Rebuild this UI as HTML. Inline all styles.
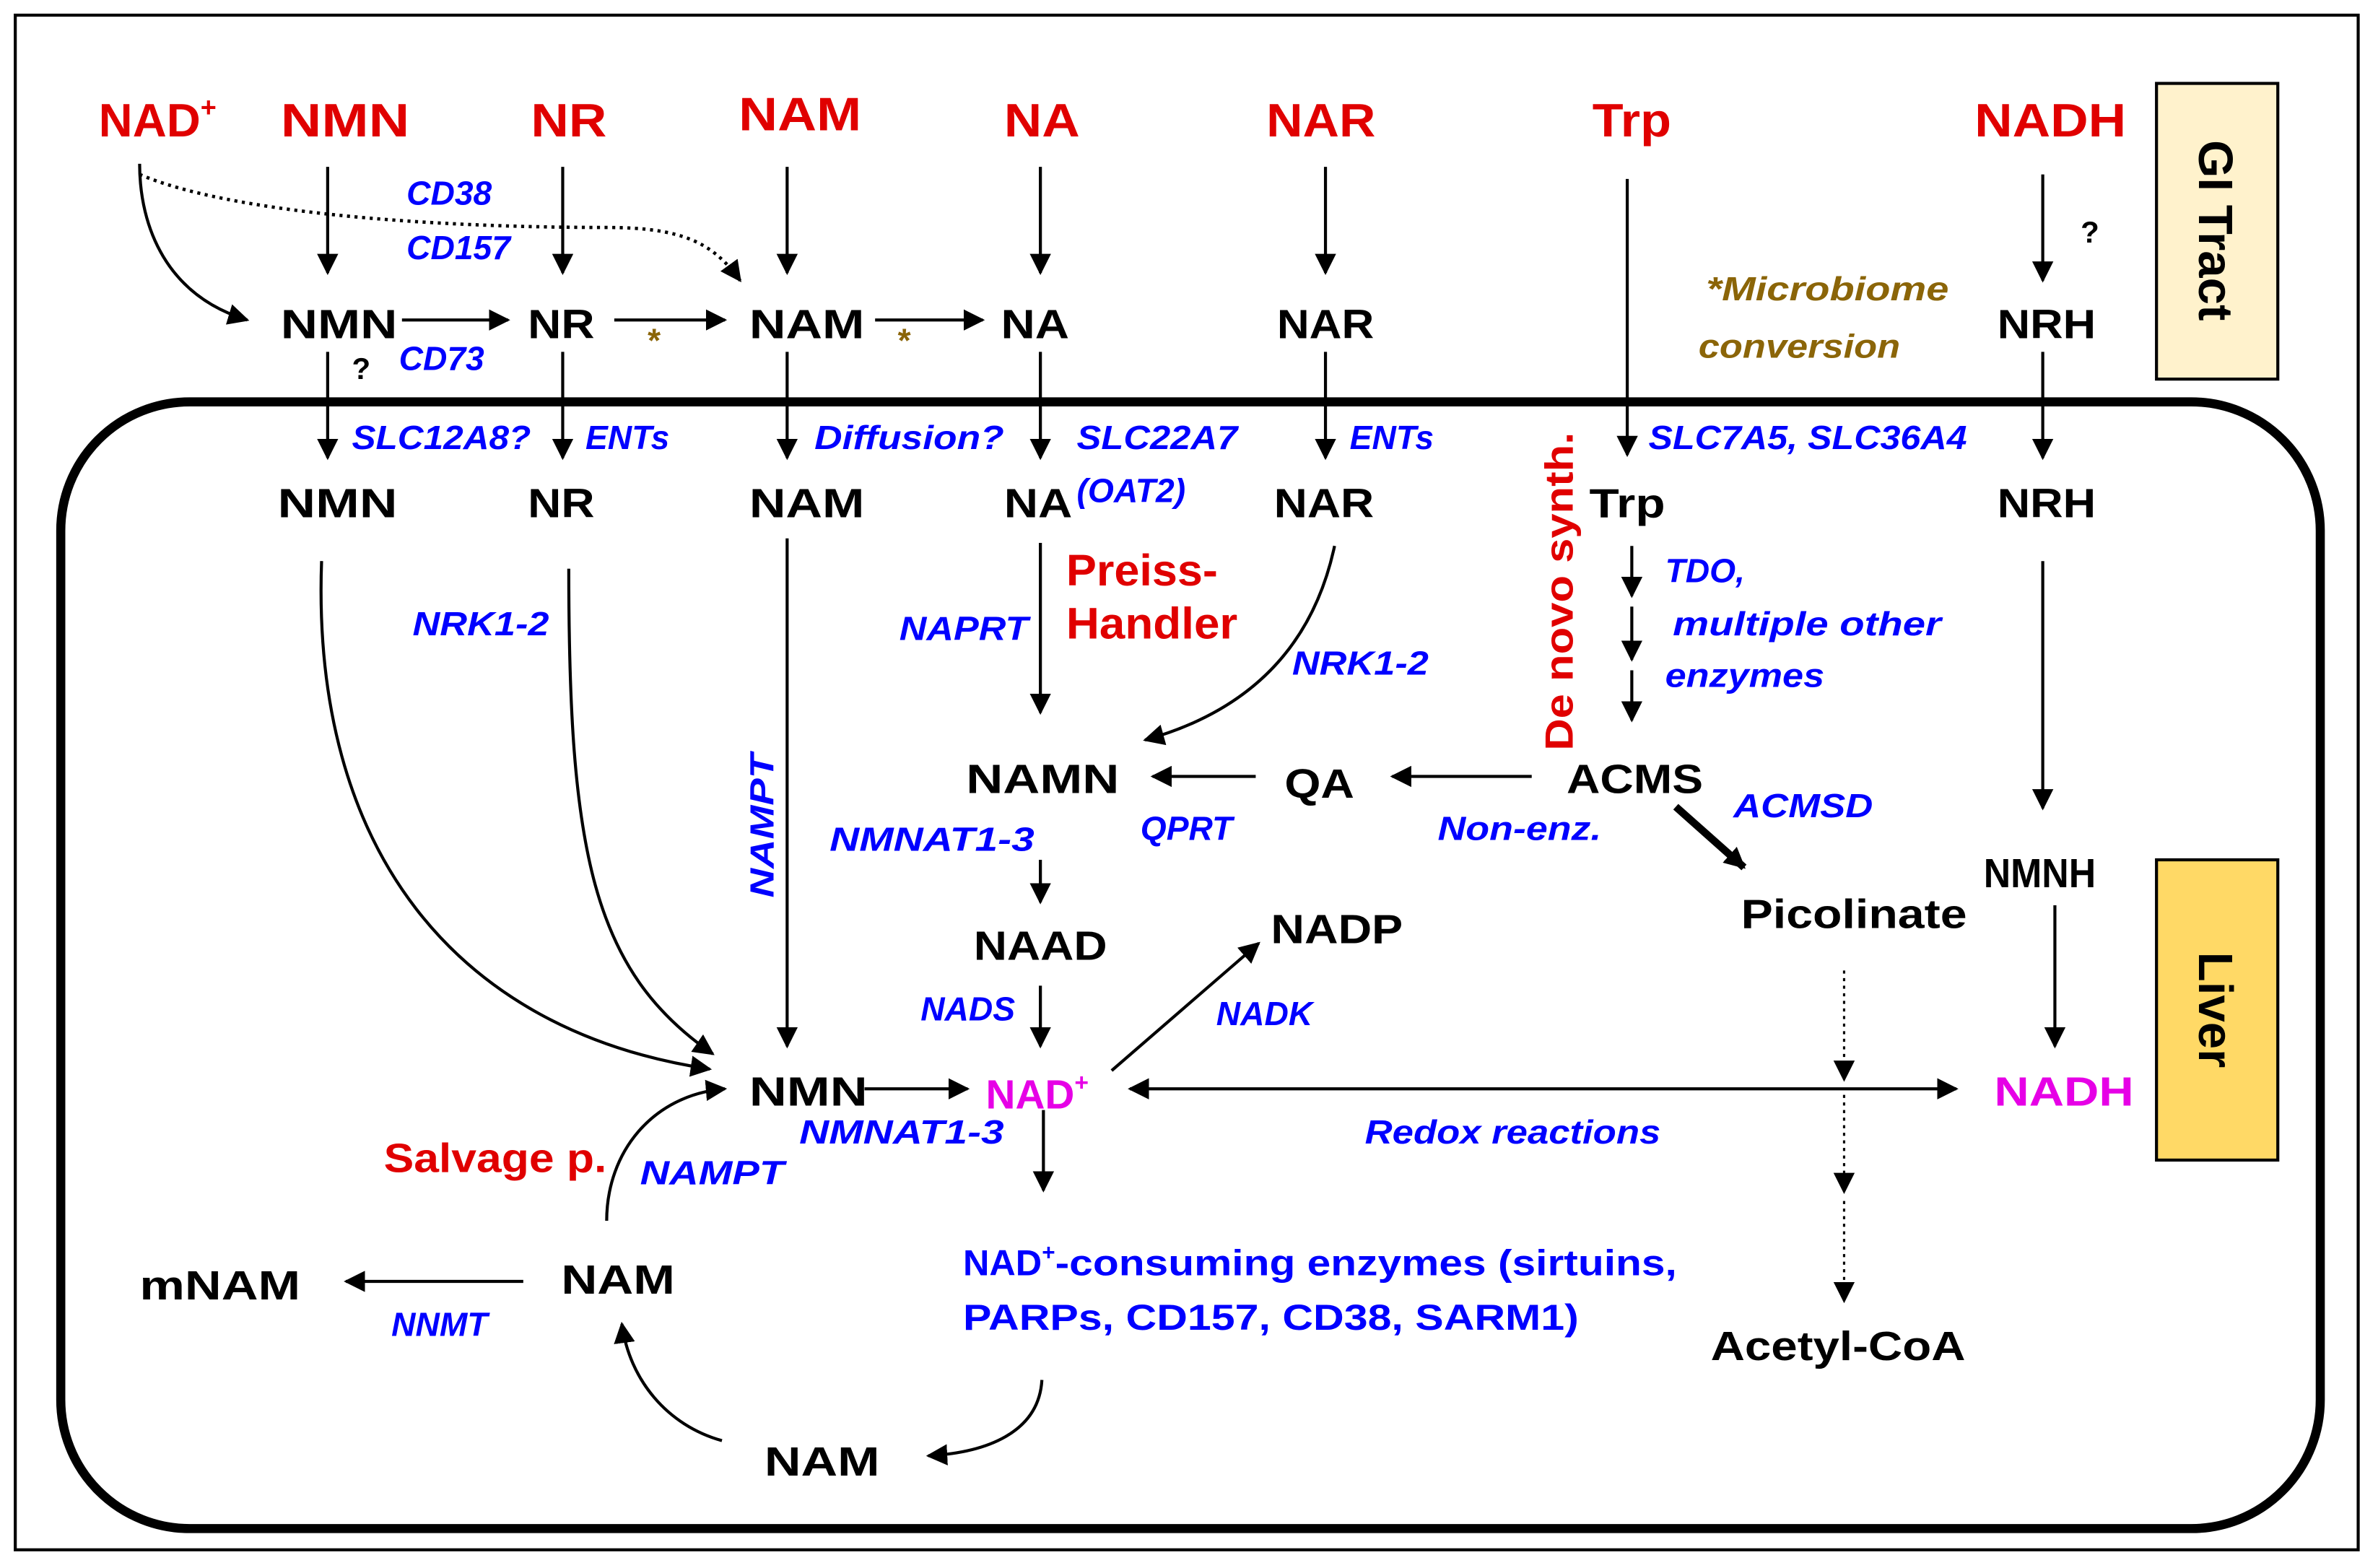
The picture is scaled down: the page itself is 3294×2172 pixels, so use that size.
<!DOCTYPE html>
<html><head><meta charset="utf-8"><style>
html,body{margin:0;padding:0;background:#fff}
svg{display:block}
text{font-family:"Liberation Sans",sans-serif}
.r{fill:#e00000;font-weight:bold;font-size:31px}
.k{fill:#000;font-size:27px;font-weight:bold}
.b{fill:#0000ff;font-style:italic;font-weight:bold;font-size:22px}
.m{fill:#e600e6;font-size:27px;font-weight:bold}
.br{fill:#8b6508;font-style:italic;font-weight:bold;font-size:22px}
.l{stroke:#000;stroke-width:2;fill:none}
</style></head><body>
<svg width="3294" height="2172" viewBox="0 0 1568 1034" xmlns="http://www.w3.org/2000/svg">
<defs>
<marker id="A" viewBox="0 0 10 10" refX="9" refY="5" markerWidth="14" markerHeight="14" markerUnits="userSpaceOnUse" orient="auto"><path d="M0,0L10,5L0,10z" fill="#000"/></marker>
<marker id="s" viewBox="0 0 10 10" refX="1" refY="5" markerWidth="14" markerHeight="14" markerUnits="userSpaceOnUse" orient="auto"><path d="M10,0L0,5L10,10z" fill="#000"/></marker>
</defs>
<rect x="10" y="10" width="1545" height="1012" fill="#fff" stroke="#000" stroke-width="2"/>
<rect x="40" y="265" width="1490" height="743" rx="85" fill="none" stroke="#000" stroke-width="6"/>
<rect x="1422" y="55" width="80" height="195" fill="#fff2cc" stroke="#000" stroke-width="2"/>
<text transform="translate(1450,152) rotate(90)" text-anchor="middle" font-weight="bold" font-size="32" fill="#000">GI Tract</text>
<rect x="1422" y="567" width="80" height="198" fill="#ffd966" stroke="#000" stroke-width="2"/>
<text transform="translate(1450,666) rotate(90)" text-anchor="middle" font-weight="bold" font-size="32" fill="#000">Liver</text>

<g class="r">
<text x="65" y="90">NAD<tspan font-size="18" dy="-13">+</tspan></text>
<text x="185" y="90" textLength="85" lengthAdjust="spacingAndGlyphs">NMN</text><text x="350" y="90" textLength="50" lengthAdjust="spacingAndGlyphs">NR</text><text x="487" y="86" textLength="81" lengthAdjust="spacingAndGlyphs">NAM</text>
<text x="662" y="90" textLength="50" lengthAdjust="spacingAndGlyphs">NA</text><text x="835" y="90" textLength="72" lengthAdjust="spacingAndGlyphs">NAR</text><text x="1050" y="90" textLength="52" lengthAdjust="spacingAndGlyphs">Trp</text><text x="1302" y="90" textLength="100" lengthAdjust="spacingAndGlyphs">NADH</text>
<text x="703" y="386" font-size="29" textLength="100" lengthAdjust="spacingAndGlyphs">Preiss-</text><text x="703" y="421" font-size="29" textLength="113" lengthAdjust="spacingAndGlyphs">Handler</text>
<text x="253" y="773" font-size="27" textLength="147" lengthAdjust="spacingAndGlyphs">Salvage p.</text>
<text transform="translate(1037,495) rotate(-90)" font-size="26" textLength="210" lengthAdjust="spacingAndGlyphs">De novo synth.</text>
</g>

<g class="k">
<text x="185" y="223" textLength="77" lengthAdjust="spacingAndGlyphs">NMN</text><text x="348" y="223" textLength="44" lengthAdjust="spacingAndGlyphs">NR</text><text x="494" y="223" textLength="76" lengthAdjust="spacingAndGlyphs">NAM</text><text x="660" y="223" textLength="45" lengthAdjust="spacingAndGlyphs">NA</text><text x="842" y="223" textLength="64" lengthAdjust="spacingAndGlyphs">NAR</text><text x="1317" y="223" textLength="65" lengthAdjust="spacingAndGlyphs">NRH</text>
<text x="183" y="341" textLength="79" lengthAdjust="spacingAndGlyphs">NMN</text><text x="348" y="341" textLength="44" lengthAdjust="spacingAndGlyphs">NR</text><text x="494" y="341" textLength="76" lengthAdjust="spacingAndGlyphs">NAM</text><text x="662" y="341" textLength="45" lengthAdjust="spacingAndGlyphs">NA</text><text x="840" y="341" textLength="66" lengthAdjust="spacingAndGlyphs">NAR</text><text x="1048" y="341" textLength="50" lengthAdjust="spacingAndGlyphs">Trp</text><text x="1317" y="341" textLength="65" lengthAdjust="spacingAndGlyphs">NRH</text>
<text x="637" y="523" textLength="101" lengthAdjust="spacingAndGlyphs">NAMN</text><text x="847" y="526" textLength="46" lengthAdjust="spacingAndGlyphs">QA</text><text x="1033" y="523" textLength="90" lengthAdjust="spacingAndGlyphs">ACMS</text>
<text x="1148" y="612" textLength="149" lengthAdjust="spacingAndGlyphs">Picolinate</text><text x="1308" y="585" textLength="74" lengthAdjust="spacingAndGlyphs">NMNH</text>
<text x="642" y="633" textLength="88" lengthAdjust="spacingAndGlyphs">NAAD</text><text x="838" y="622" textLength="87" lengthAdjust="spacingAndGlyphs">NADP</text>
<text x="494" y="729" textLength="78" lengthAdjust="spacingAndGlyphs">NMN</text>
<text x="92" y="857" textLength="106" lengthAdjust="spacingAndGlyphs">mNAM</text><text x="370" y="853" textLength="75" lengthAdjust="spacingAndGlyphs">NAM</text><text x="504" y="973" textLength="76" lengthAdjust="spacingAndGlyphs">NAM</text>
<text x="1128" y="897" textLength="168" lengthAdjust="spacingAndGlyphs">Acetyl-CoA</text>
<text x="232" y="250" font-size="20">?</text><text x="1372" y="160" font-size="20">?</text>
</g>
<text class="m" x="650" y="731">NAD<tspan font-size="16" dy="-12">+</tspan></text>
<text class="m" x="1315" y="729" textLength="92" lengthAdjust="spacingAndGlyphs">NADH</text>

<g class="b">
<text x="268" y="135">CD38</text><text x="268" y="171">CD157</text><text x="263" y="244">CD73</text>
<text x="232" y="296" textLength="118" lengthAdjust="spacingAndGlyphs">SLC12A8?</text><text x="386" y="296">ENTs</text><text x="537" y="296" textLength="125" lengthAdjust="spacingAndGlyphs">Diffusion?</text>
<text x="710" y="296" textLength="106" lengthAdjust="spacingAndGlyphs">SLC22A7</text><text x="710" y="331">(OAT2)</text><text x="890" y="296">ENTs</text><text x="1087" y="296" textLength="210" lengthAdjust="spacingAndGlyphs">SLC7A5, SLC36A4</text>
<text x="272" y="419" textLength="90" lengthAdjust="spacingAndGlyphs">NRK1-2</text><text x="593" y="422" textLength="85" lengthAdjust="spacingAndGlyphs">NAPRT</text><text x="852" y="445" textLength="90" lengthAdjust="spacingAndGlyphs">NRK1-2</text>
<text x="1098" y="384">TDO,</text><text x="1103" y="419" textLength="177" lengthAdjust="spacingAndGlyphs">multiple other</text><text x="1098" y="453" textLength="105" lengthAdjust="spacingAndGlyphs">enzymes</text>
<text x="752" y="554">QPRT</text><text x="948" y="554" textLength="108" lengthAdjust="spacingAndGlyphs">Non-enz.</text><text x="1143" y="539" textLength="92" lengthAdjust="spacingAndGlyphs">ACMSD</text>
<text x="547" y="561" textLength="135" lengthAdjust="spacingAndGlyphs">NMNAT1-3</text><text x="607" y="673">NADS</text><text x="802" y="676">NADK</text>
<text x="527" y="754" textLength="135" lengthAdjust="spacingAndGlyphs">NMNAT1-3</text><text x="900" y="754" textLength="195" lengthAdjust="spacingAndGlyphs">Redox reactions</text>
<text x="422" y="781" textLength="95" lengthAdjust="spacingAndGlyphs">NAMPT</text><text x="258" y="881">NNMT</text>
<text transform="translate(510,592) rotate(-90)" textLength="95" lengthAdjust="spacingAndGlyphs">NAMPT</text>
<text x="635" y="841" font-style="normal" font-size="24">NAD<tspan font-size="15" dy="-10">+</tspan><tspan dy="10" textLength="410" lengthAdjust="spacingAndGlyphs">-consuming enzymes (sirtuins,</tspan></text>
<text x="635" y="877" font-style="normal" font-size="24" textLength="406" lengthAdjust="spacingAndGlyphs">PARPs, CD157, CD38, SARM1)</text>
</g>
<g class="br"><text x="1125" y="198" textLength="160" lengthAdjust="spacingAndGlyphs">*Microbiome</text><text x="1120" y="236" textLength="133" lengthAdjust="spacingAndGlyphs">conversion</text>
<text x="427" y="232" font-style="normal">*</text><text x="592" y="232" font-style="normal">*</text></g>

<g class="l" marker-end="url(#A)">
<path d="M216,110V180"/><path d="M371,110V180"/><path d="M519,110V180"/><path d="M686,110V180"/><path d="M874,110V180"/>
<path d="M1073,118V300"/><path d="M1347,115V185"/>
<path d="M265,211H335"/><path d="M405,211H478"/><path d="M577,211H648"/>
<path d="M92,108C92,150 110,195 163,211"/>
<path d="M216,232V302"/><path d="M371,232V302"/><path d="M519,232V302"/><path d="M686,232V302"/><path d="M874,232V302"/><path d="M1347,232V302"/>
<path d="M212,370C205,560 300,680 468,705"/>
<path d="M375,375C375,560 390,640 470,695"/>
<path d="M519,355V690"/>
<path d="M686,358V470"/>
<path d="M880,360C865,430 820,470 755,488"/>
<path d="M1010,512H918"/><path d="M828,512H760"/>
<path d="M1076,360V393"/><path d="M1076,400V435"/><path d="M1076,442V475"/>
<path d="M1347,370V533"/><path d="M1355,597V690"/>
<path d="M686,567V595"/><path d="M686,650V690"/>
<path d="M733,706L830,622"/>
<path d="M570,718H638"/>
<path d="M745,718H1290" marker-start="url(#s)"/>
<path d="M688,732V785"/>
<path d="M345,845H228"/>
<path d="M400,805C400,760 430,722 478,718"/>
<path d="M687,910C685,945 650,958 612,960"/>
<path d="M476,950C440,940 415,910 410,873"/>
</g>
<path d="M1105,532L1150,572" stroke="#000" stroke-width="5" fill="none" marker-end="url(#A)"/>
<path d="M92,115C150,140 280,150 400,150C450,150 470,160 488,185" stroke="#000" stroke-width="2.2" stroke-dasharray="2,3" fill="none" marker-end="url(#A)"/>
<g stroke="#000" stroke-width="1.5" stroke-dasharray="2,3" fill="none" marker-end="url(#A)">
<path d="M1216,640V712"/><path d="M1216,722V786"/><path d="M1216,792V858"/>
</g>
</svg>
</body></html>
